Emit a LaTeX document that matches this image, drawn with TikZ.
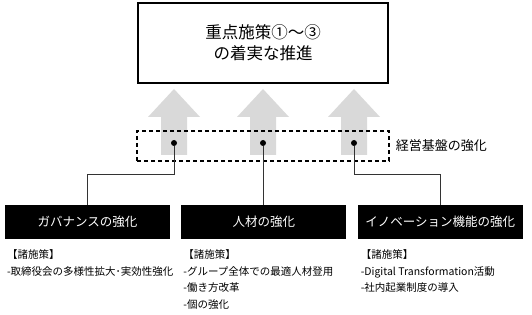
\documentclass[tikz,border=0pt]{standalone}
\usepackage{fontspec}
\setmainfont{Noto Sans CJK JP}
\usetikzlibrary{positioning}

\begin{document}
\begin{tikzpicture}[x=1pt, y=-1pt, node distance=0pt,
  goalbox/.style={draw, line width=1.6pt, minimum width=250pt, minimum height=80pt,
                  align=center, font=\fontsize{16.5}{21}\selectfont},
  pillar/.style={fill=black, text=white, minimum width=165pt, minimum height=34pt,
                 inner sep=0pt, font=\fontsize{12.5}{15}\selectfont},
  policy/.style={anchor=north west, align=left, inner sep=0pt,
                 font=\fontsize{10.5}{16.8}\selectfont},
  upfill/.style={fill=black!15},
  dot/.style={circle, fill=black, inner sep=0pt, minimum size=6pt},
  link/.style={draw=black!80, line width=0.8pt}]
  \useasboundingbox (0,0) rectangle (532,315);

  % goal
  \node[goalbox] (goal) at (263,43) {重点施策①～③\\の着実な推進};

  % gray arrows
  \foreach \cx in {174,263,354}
    \fill[upfill] (\cx,89) -- (\cx+26,117) -- (\cx+13,117) -- (\cx+13,155)
      -- (\cx-13,155) -- (\cx-13,117) -- (\cx-26,117) -- cycle;

  % management base
  \node[draw, dashed, dash pattern=on 4pt off 3pt, line width=1.1pt,
        minimum width=252pt, minimum height=30pt] (base) at (263,146) {};
  \node[right=6pt of base, inner sep=0pt, font=\fontsize{13}{15}\selectfont]
       (baselbl) {経営基盤の強化};

  % three pillars
  \node[pillar] (gov) at (87.5,222) {ガバナンスの強化};
  \node[pillar, right=11pt of gov] (hr) {人材の強化};
  \node[pillar, right=11pt of hr] (inno) {イノベーション機能の強化};

  \node[dot] (d1) at (174,143) {};
  \node[dot] (d2) at (263,143) {};
  \node[dot] (d3) at (354,143) {};
  \draw[link] (d1) -- ++(0,31) -| (gov);
  \draw[link] (d2) -- (d2 |- hr.north);
  \draw[link] (d3) -- ++(0,31) -| (inno);

  % policy lists
  \node[policy] (govlist) at ([xshift=2pt, yshift=-10pt]gov.south west)
       {【諸施策】\\-取締役会の多様性拡大･実効性強化};
  \node[policy] (hrlist) at ([xshift=2pt, yshift=-10pt]hr.south west)
       {【諸施策】\\-グループ全体での最適人材登用\\-働き方改革\\-個の強化};
  \node[policy] (innolist) at ([xshift=3pt, yshift=-10pt]inno.south west)
       {【諸施策】\\-Digital Transformation活動\\-社内起業制度の導入};
\end{tikzpicture}
\end{document}
